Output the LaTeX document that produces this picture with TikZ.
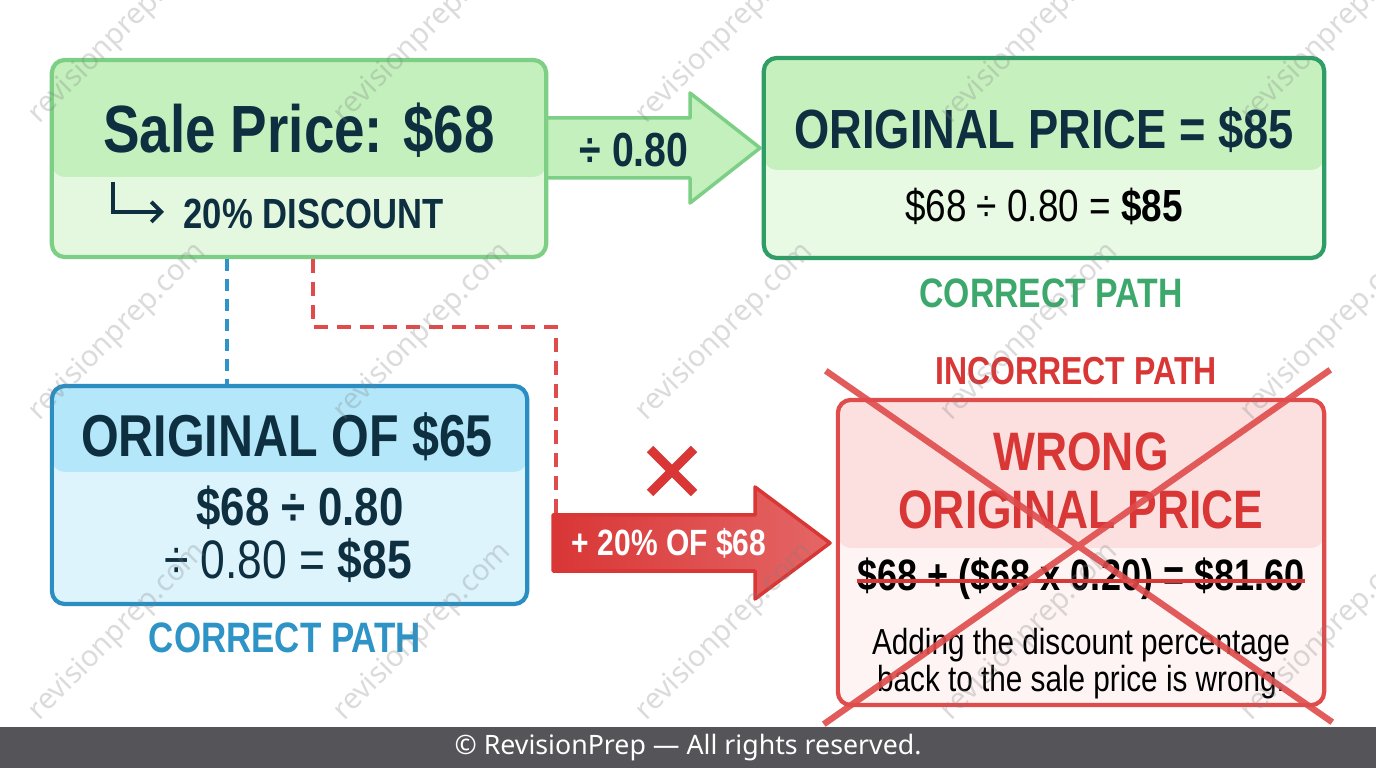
\documentclass[tikz,border=0pt]{standalone}
\usepackage{fontspec}
\setmainfont{Noto Sans}
\newfontfamily\cond{Liberation Sans}[FakeStretch=0.82]
\usepackage{tikz}
\usetikzlibrary{arrows.meta}
\definecolor{ink}{HTML}{0E2F40}
\definecolor{salebd}{HTML}{7DCF86}
\definecolor{saletop}{HTML}{C3F0BC}
\definecolor{salebot}{HTML}{E4F8E0}
\definecolor{origbd}{HTML}{2E9D66}
\definecolor{origtop}{HTML}{C6F1BE}
\definecolor{origbot}{HTML}{E8F9E4}
\definecolor{bluebd}{HTML}{2B8EC2}
\definecolor{bluetop}{HTML}{B3E7F9}
\definecolor{bluebot}{HTML}{DDF4FD}
\definecolor{redbd}{HTML}{E04B4B}
\definecolor{redtop}{HTML}{FCE0E0}
\definecolor{redbot}{HTML}{FEF4F4}
\definecolor{okgreen}{HTML}{3DA86B}
\definecolor{okblue}{HTML}{2E93C6}
\definecolor{badred}{HTML}{D93636}
\definecolor{footbg}{HTML}{545459}
\tikzset{
  card/.style n args={4}{draw=#1, fill=#3, line width=1.2pt, rounded corners=0.13cm,
    inner sep=0pt, path picture={\fill[#2] (path picture bounding box.north west)
      rectangle ([yshift=-#4]path picture bounding box.north east);}},
  headtxt/.style={ink, font=\cond\bfseries\fontsize{15.7}{17}\selectfont},
  subtxt/.style={ink, font=\cond\bfseries\fontsize{12}{14}\selectfont},
  pathtxt/.style={font=\cond\bfseries\fontsize{11.7}{14}\selectfont},
  bluedash/.style={okblue, line width=0.9pt, dash pattern=on 0.12cm off 0.08cm},
  reddash/.style={redbd, line width=0.9pt, dash pattern=on 0.14cm off 0.09cm},
  wmark/.style={rotate=45, text=gray, opacity=0.28, font=\fontsize{8.3}{10}\selectfont}
}
\begin{document}
\begin{tikzpicture}[x=0.01cm, y=-0.01cm]
  \useasboundingbox[fill=white] (0,0) rectangle (1376,768);

  % arrows
  \coordinate (divtail) at (546,148);
  \filldraw[draw=salebd, fill=saletop, line width=1pt, line join=round]
    (divtail) ++(0,-30) -- ++(144,0) -- ++(0,-25) -- (760,148) -- (690,203) -- ++(0,-25) -- ++(-144,0);
  \coordinate (addtail) at (553,543);
  \filldraw[draw=badred, left color=badred, right color=redbd!85, line width=1pt, line join=round]
    (addtail) ++(0,-28) -- ++(202,0) -- ++(0,-28) -- (830,543) -- (755,599) -- ++(0,-28) -- ++(-202,0) -- cycle;

  % boxes
  \node[card={salebd}{saletop}{salebot}{1.17cm}, minimum width=4.94cm, minimum height=1.97cm] (sale) at (299,158.5) {};
  \node[card={origbd}{origtop}{origbot}{1.12cm}, minimum width=5.60cm, minimum height=2.00cm] (orig) at (1044,158) {};
  \node[card={bluebd}{bluetop}{bluebot}{0.86cm}, minimum width=4.75cm, minimum height=2.18cm] (blue) at (289.5,495) {};
  \node[card={redbd}{redtop}{redbot}{1.48cm}, minimum width=4.86cm, minimum height=3.05cm] (wrong) at (1081,552.5) {};

  % texts
  \node[ink, font=\cond\bfseries\fontsize{19}{21}\selectfont] (saletxt) at (299,130) {Sale Price: \$68};
  \node[subtxt, anchor=west, inner sep=0pt] (disc) at (183,214) {20\% DISCOUNT};
  \draw[ink, line width=1.1pt, -{Straight Barb[length=0.1cm, width=0.2cm]}]
    ([shift={(-70,-32)}]disc.west) |- ([shift={(-19,-2)}]disc.west);
  \node[ink, font=\cond\bfseries\fontsize{13.6}{15}\selectfont] (divtxt) at (634,150) {÷ 0.80};
  \node[headtxt] (origtxt) at (1044,130) {ORIGINAL PRICE = \$85};
  \node[black, font=\cond\fontsize{12.8}{14}\selectfont] (origcalc) at (1044,206) {\$68 ÷ 0.80 = \textbf{\$85}};
  \node[pathtxt, okgreen] (okone) at (1051,293) {CORRECT PATH};

  \node[ink, font=\cond\bfseries\fontsize{16.8}{18}\selectfont] (bluetxt) at (287,437) {ORIGINAL OF \$65};
  \node[ink, font=\cond\bfseries\fontsize{15.2}{17}\selectfont] (bluecalc) at (300,508) {\$68 ÷ 0.80};
  \node[ink, font=\cond\fontsize{15.4}{17}\selectfont] (blueres) at (288,560) {÷ 0.80 = \textbf{\$85}};
  \node[pathtxt, okblue, font=\cond\bfseries\fontsize{12.1}{14}\selectfont] (oktwo) at (285,638) {CORRECT PATH};

  \node[white, font=\cond\bfseries\fontsize{10.4}{12}\selectfont] (addtxt) at (669,543) {+ 20\% OF \$68};
  \node[badred, font=\cond\bfseries\fontsize{11.1}{13}\selectfont] (badpath) at (1076,371) {INCORRECT PATH};
  \node[badred, font=\cond\bfseries\fontsize{15.4}{16.5}\selectfont, align=center] (wrongtxt) at (1081,481) {WRONG\\ORIGINAL PRICE};
  \node[black, font=\cond\bfseries\fontsize{12.5}{14}\selectfont, inner sep=0pt] (strike) at (1081,579) {\$68 + (\$68 x 0.20) = \$81.60};
  \draw[badred, line width=1pt] ([yshift=-0.02cm]strike.west) -- ([yshift=-0.02cm]strike.east);
  \node[black, font=\cond\fontsize{10.3}{9.4}\selectfont, align=center] (why) at (1081,664) {Adding the discount percentage\\back to the sale price is wrong.};

  % connectors
  \coordinate (bluehook) at (227,0);
  \draw[bluedash] (sale.south -| bluehook) -- (blue.north -| bluehook);
  \coordinate (redturn) at (313,327);
  \coordinate (redin) at (556,514);
  \draw[reddash] (sale.south -| redturn) -- (redturn) -| (redin);

  % crosses
  \coordinate (nomark) at (672,471);
  \draw[badred, line width=2.6pt] ([shift={(-22,-22)}]nomark) -- ([shift={(22,22)}]nomark)
    ([shift={(22,-22)}]nomark) -- ([shift={(-22,22)}]nomark);
  \draw[redbd, opacity=0.9, line width=1.8pt]
    ([shift={(-10,-27)}]wrong.north west) -- ([shift={(6,15)}]wrong.south east)
    ([shift={(4,-28)}]wrong.north east) -- ([shift={(-12,17)}]wrong.south west);

  % footer
  \node[fill=footbg, text=white, minimum width=13.76cm, minimum height=0.41cm, inner sep=0pt,
    font=\fontsize{7.6}{10}\selectfont] (foot) at (688,747.5) {© RevisionPrep — All rights reserved.};

  % watermark
  \foreach \wx in {118,423,725,1030,1330}
    \foreach \wy in {35,332,632}
      \node[wmark] at (\wx,\wy) {revisionprep.com};
\end{tikzpicture}
\end{document}
